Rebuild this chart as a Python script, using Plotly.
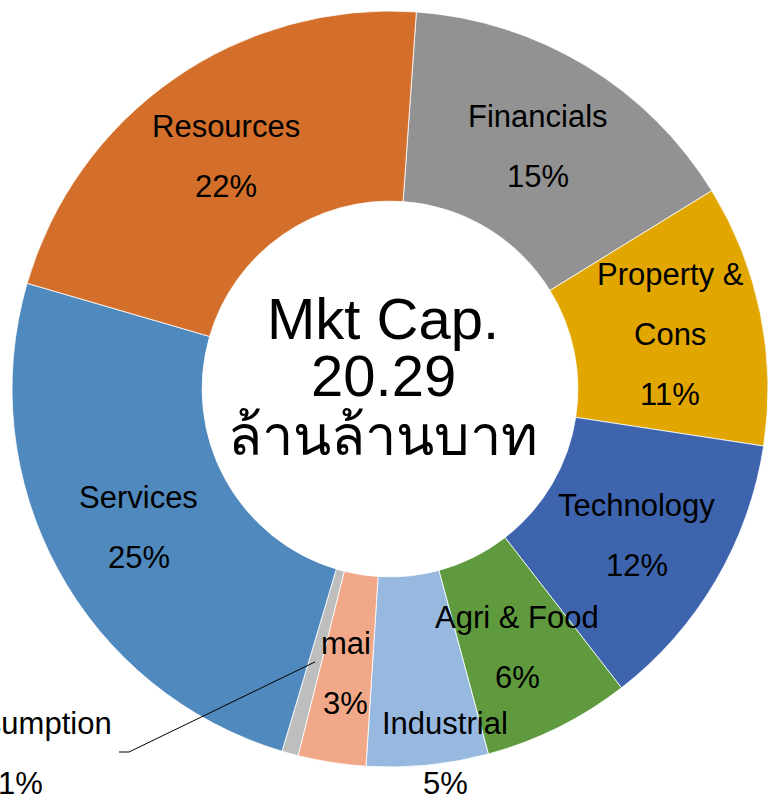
import math
import plotly.graph_objects as go

# ---------------- data ----------------
sectors = ["Financials", "Property & Cons", "Technology", "Agri & Food", "Industrial",
           "mai", "Consumption", "Services", "Resources"]
shares = [15.1, 11.2, 12.1, 6.3, 5.2, 2.9, 0.7, 24.9, 21.6]
label_lines = [["Financials"], ["Property &", "Cons"], ["Technology"], ["Agri & Food"],
               ["Industrial"], ["mai"], ["Consumption"], ["Services"], ["Resources"]]
center_lines = ["Mkt Cap.", "20.29", "ล้านล้านบาท"]
colors = ["#929292", "#E1A700", "#3E64AD", "#5F9A3E", "#97B8DF",
          "#F0A889", "#BEBEBE", "#4F89BD", "#D36F2B"]

# ---------------- layout constants (pixels) ----------------
W, H = 768, 801
CX, CY, R = 390, 389, 378
HOLE = 0.497
ROTATION = 4
LABEL_R = 286
LABEL_DY = 2
FIXED_LABEL = {"Industrial": (445, 753), "Consumption": (20, 753)}
LINE_GAP = 60
FONT = "Liberation Sans, Arial, sans-serif"
LABEL_SIZE = 31
CENTER_SIZES = [58, 58, 56]
CENTER_OFFSETS = [-71, -14, 46]


def px_to_paper(x, y):
    return x / W, 1 - y / H


dom_x = [(CX - R) / W, 1.0]
half_h = 0.4855
cy_p = 1 - CY / H
dom_y = [cy_p - half_h, min(1.0, cy_p + half_h)]

fig = go.Figure(go.Pie(
    labels=sectors, values=shares, sort=False, direction="clockwise",
    rotation=ROTATION, hole=HOLE, textinfo="none", hoverinfo="label+percent",
    marker=dict(colors=colors, line=dict(color="white", width=0.8)),
    domain=dict(x=dom_x, y=dom_y), showlegend=False,
))

annotations = []
shapes = []
total = sum(shares)
cum = 0.0
for name, val, lines in zip(sectors, shares, label_lines):
    mid = ROTATION + (cum + val / 2) / total * 360
    cum += val
    a = math.radians(mid)
    pct = f"{round(val / total * 100)}%"
    text_lines = lines + [pct]
    if name in FIXED_LABEL:
        lx, ly = FIXED_LABEL[name]
    else:
        lx, ly = CX + LABEL_R * math.sin(a), CY - LABEL_R * math.cos(a) + LABEL_DY
    if name == "Consumption":
        # leader line from label to middle of the ring
        rm = R * (1 + HOLE) / 2
        ex, ey = CX + rm * math.sin(a), CY - rm * math.cos(a)
        p0 = px_to_paper(lx + 99, ly - 1)
        p1 = px_to_paper(lx + 109, ly - 1)
        p2 = px_to_paper(ex, ey)
        shapes.append(dict(type="path", xref="paper", yref="paper",
                           path=f"M {p0[0]},{p0[1]} L {p1[0]},{p1[1]} L {p2[0]},{p2[1]}",
                           line=dict(color="black", width=1)))
    n = len(text_lines)
    for i, t in enumerate(text_lines):
        off = (i - (n - 1) / 2) * LINE_GAP
        px, py = px_to_paper(lx, ly + off)
        annotations.append(dict(x=px, y=py, xref="paper", yref="paper", text=t,
                                showarrow=False, xanchor="center", yanchor="middle",
                                font=dict(family=FONT, size=LABEL_SIZE, color="black")))

for t, off, sz in zip(center_lines, CENTER_OFFSETS, CENTER_SIZES):
    px, py = px_to_paper(383, CY + off)
    annotations.append(dict(x=px, y=py, xref="paper", yref="paper", text=t,
                            showarrow=False, xanchor="center", yanchor="middle",
                            font=dict(family=FONT, size=sz, color="black")))

fig.update_layout(width=W, height=H, margin=dict(l=0, r=0, t=0, b=0),
                  paper_bgcolor="white", plot_bgcolor="white",
                  annotations=annotations, shapes=shapes)

fig.write_html("out.html", config={"displayModeBar": False},
               post_script="document.body.style.margin='0';")
